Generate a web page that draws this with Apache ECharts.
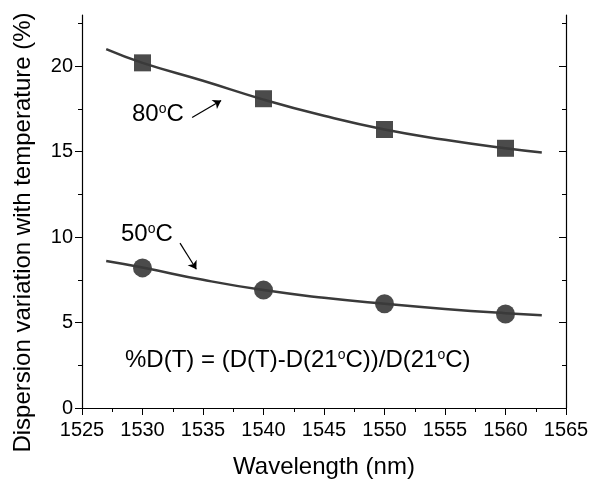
<!DOCTYPE html>
<html>
<head>
<meta charset="utf-8">
<script src="https://cdn.jsdelivr.net/npm/echarts@6/dist/echarts.min.js"></script>
<style>
  html, body { margin: 0; padding: 0; background: #fff; }
  #chart { width: 590px; height: 481px; }
</style>
</head>
<body>
<div id="chart"></div>
<script>
// measured points (nm, %)
var wavelengths = [1530, 1540, 1550, 1560];
var d80 = [20.2, 18.1, 16.3, 15.2];
var d50 = [8.2, 6.9, 6.1, 5.5];

// fitted curves
var fitX = [1527, 1530, 1535, 1540, 1545, 1550, 1555, 1560, 1563];
var fit80 = [21.0, 20.2, 19.15, 18.05, 17.1, 16.3, 15.7, 15.2, 14.95];
var fit50 = [8.6, 8.22, 7.5, 6.9, 6.45, 6.1, 5.8, 5.55, 5.43];

var yMajor = [0, 5, 10, 15, 20];
var yMinor = [2.5, 7.5, 12.5, 17.5, 22.5];

var font = 'Liberation Sans, Arial, Helvetica, sans-serif';
var lineColor = '#3a3a3a';
var markColor = '#1e1e1e';

function pairs(xs, ys) {
    var out = [];
    for (var i = 0; i < xs.length; i++) {
        out.push([xs[i], ys[i]]);
    }
    return out;
}

var chart = echarts.init(document.getElementById('chart'));

var axisLine = { show: true, lineStyle: { color: '#000', width: 1.2 } };
var supRich = {
    n: { fontSize: 24, fontFamily: font, fill: '#000', lineHeight: 26, verticalAlign: 'top' },
    sup: { fontSize: 14, fontFamily: font, fill: '#000', lineHeight: 10, verticalAlign: 'top' }
};

var option = {
    backgroundColor: '#fff',
    animation: false,
    grid: { left: 82, right: 24, top: 15, bottom: 73, outerBoundsMode: 'none', containLabel: false },
    xAxis: [
        {
            type: 'value', min: 1525, max: 1565, interval: 5,
            axisLine: axisLine,
            axisTick: { show: true, inside: false, length: 7, lineStyle: { color: '#000' } },
            minorTick: { show: true, splitNumber: 2, length: 4, lineStyle: { color: '#000' } },
            splitLine: { show: false },
            axisLabel: {
                color: '#000', fontSize: 20, fontFamily: font, margin: 12,
                formatter: function (v) { return String(v); }
            },
            name: 'Wavelength (nm)', nameLocation: 'middle', nameGap: 47,
            nameTextStyle: { color: '#000', fontSize: 24, fontFamily: font }
        },
        {
            type: 'value', min: 1525, max: 1565, interval: 5, position: 'top',
            axisLine: axisLine,
            axisTick: { show: true, inside: true, length: 7, lineStyle: { color: '#000' } },
            minorTick: { show: true, splitNumber: 2, length: 4, lineStyle: { color: '#000' } },
            splitLine: { show: false },
            axisLabel: { show: false }
        }
    ],
    yAxis: [
        {
            type: 'value', min: 0, max: 23, position: 'left',
            axisLine: axisLine,
            axisTick: { show: true, inside: false, length: 7, customValues: yMajor, lineStyle: { color: '#000' } },
            splitLine: { show: false },
            axisLabel: { color: '#000', fontSize: 20, fontFamily: font, margin: 9, customValues: yMajor },
            name: 'Dispersion variation with temperature (%)', nameLocation: 'middle', nameGap: 47,
            nameTextStyle: { color: '#000', fontSize: 24, fontFamily: font, padding: [0, 42, 0, 0] }
        },
        {
            type: 'value', min: 0, max: 23, position: 'left',
            axisLine: { show: false },
            axisTick: { show: true, inside: false, length: 4, customValues: yMinor, lineStyle: { color: '#000' } },
            splitLine: { show: false },
            axisLabel: { show: false }
        },
        {
            type: 'value', min: 0, max: 23, position: 'right',
            axisLine: axisLine,
            axisTick: { show: true, inside: true, length: 7, customValues: yMajor, lineStyle: { color: '#000' } },
            splitLine: { show: false },
            axisLabel: { show: false }
        },
        {
            type: 'value', min: 0, max: 23, position: 'right',
            axisLine: { show: false },
            axisTick: { show: true, inside: true, length: 4, customValues: yMinor, lineStyle: { color: '#000' } },
            splitLine: { show: false },
            axisLabel: { show: false }
        }
    ],
    series: [
        {
            name: 'fit 80', type: 'line', smooth: true, showSymbol: false,
            data: pairs(fitX, fit80),
            lineStyle: { color: lineColor, width: 2.5 },
            markLine: {
                silent: true, symbol: ['none', 'arrow'], symbolSize: 8,
                label: { show: false },
                lineStyle: { color: '#000', width: 1.2, type: 'solid' },
                data: [[{ coord: [1534.1, 17.0] }, { coord: [1536.5, 18.0] }]]
            }
        },
        {
            name: 'fit 50', type: 'line', smooth: true, showSymbol: false,
            data: pairs(fitX, fit50),
            lineStyle: { color: lineColor, width: 2.5 },
            markLine: {
                silent: true, symbol: ['none', 'arrow'], symbolSize: 8,
                label: { show: false },
                lineStyle: { color: '#000', width: 1.2, type: 'solid' },
                data: [[{ coord: [1533.1, 9.65] }, { coord: [1534.45, 8.12] }]]
            }
        },
        {
            name: '80°C', type: 'scatter', symbol: 'rect', symbolSize: 17,
            data: pairs(wavelengths, d80),
            itemStyle: { color: markColor }
        },
        {
            name: '50°C', type: 'scatter', symbol: 'circle', symbolSize: 19,
            data: pairs(wavelengths, d50),
            itemStyle: { color: markColor }
        }
    ],
    graphic: [
        {
            type: 'text', left: 132, top: 102,
            style: { text: '{n|80}{sup|o}{n|C}', rich: supRich }
        },
        {
            type: 'text', left: 121, top: 222,
            style: { text: '{n|50}{sup|o}{n|C}', rich: supRich }
        },
        {
            type: 'text', left: 125, top: 348,
            style: { text: '{n|%D(T) = (D(T)-D(21}{sup|o}{n|C))/D(21}{sup|o}{n|C)}', rich: supRich }
        }
    ]
};

chart.setOption(option);
</script>
</body>
</html>
